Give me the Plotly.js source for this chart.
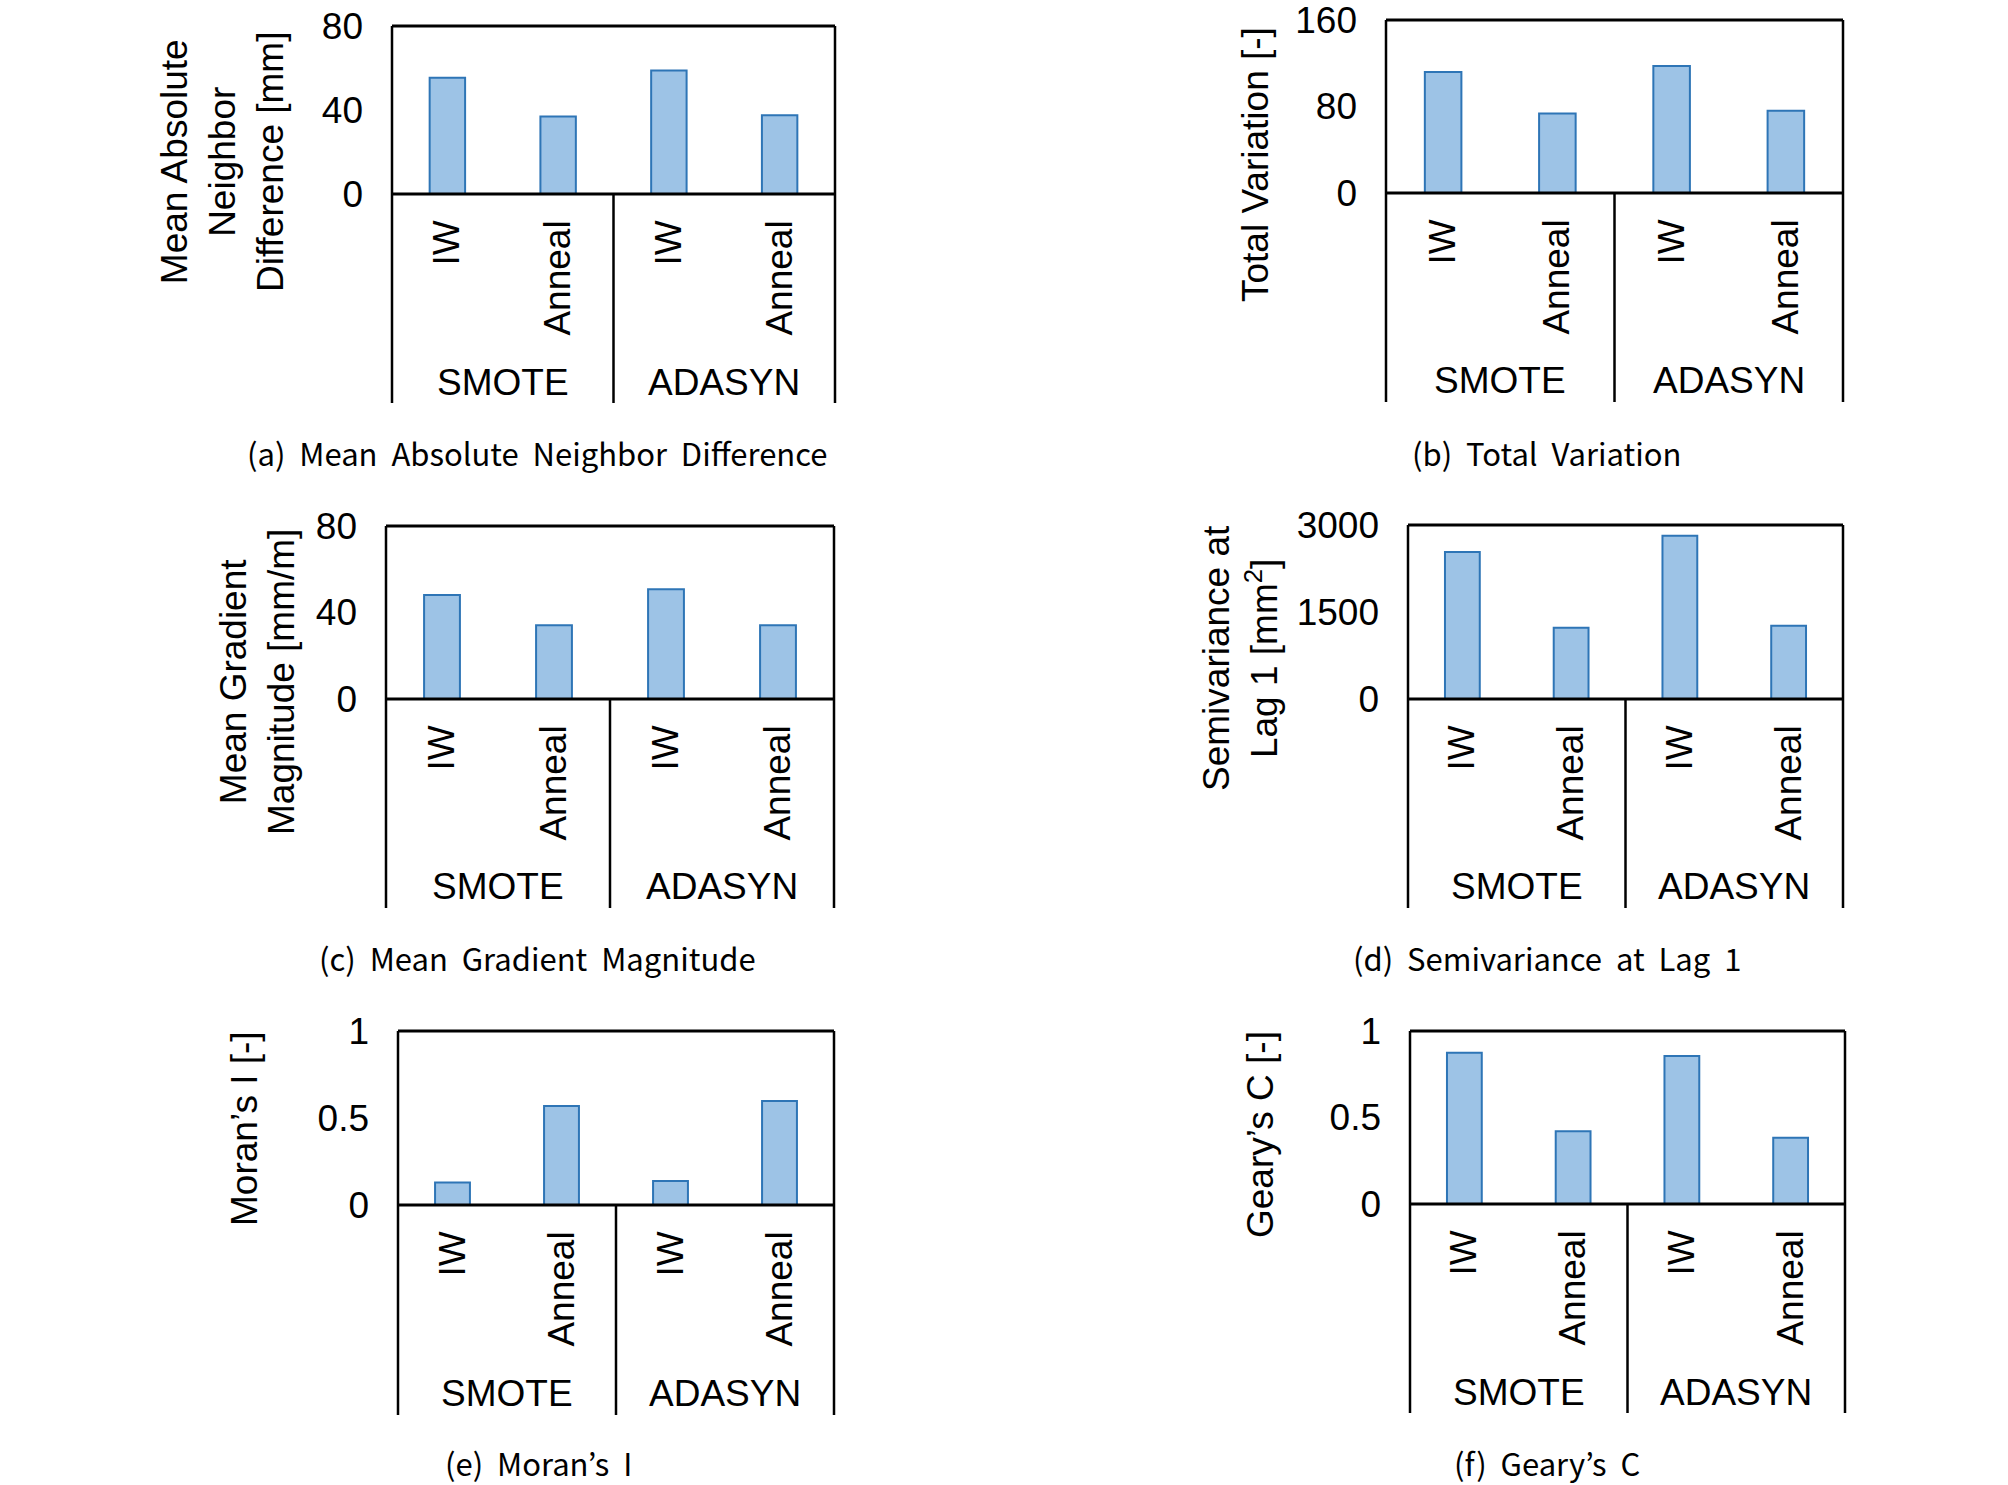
<!DOCTYPE html>
<html>
<head>
<meta charset="utf-8">
<script src="https://cdn.plot.ly/plotly-3.0.1.min.js"></script>
<style>html,body{margin:0;padding:0;background:#fff;}#chart{width:2008px;height:1485px;}</style>
</head>
<body>
<div id="chart"></div>
<script>
// ---------- data ----------
const subLabels   = ['IW', 'Anneal', 'IW', 'Anneal'];
const groupLabels = ['SMOTE', 'SMOTE', 'ADASYN', 'ADASYN'];

const meanAbsNeighborDiff = [55.3, 36.9, 58.8, 37.5];
const totalVariation      = [111.8, 73.5, 117.4, 76.0];
const meanGradientMag     = [48.1, 34.1, 50.7, 34.1];
const semivarianceLag1    = [2535, 1228, 2816, 1262];
const moransI             = [0.130, 0.569, 0.138, 0.598];
const gearysC             = [0.875, 0.421, 0.856, 0.383];

const ticksA = [0, 40, 80];
const ticksB = [0, 80, 160];
const ticksC = [0, 40, 80];
const ticksD = [0, 1500, 3000];
const ticksE = [0, 0.5, 1];
const ticksF = [0, 0.5, 1];

const yTitles = [
  'Mean Absolute<br>Neighbor<br>Difference [mm]',
  'Total Variation [-]',
  'Mean Gradient<br>Magnitude [mm/m]',
  'Semivariance at<br>Lag 1 [mm<sup>2</sup>]',
  'Moran\u2019s I [-]',
  'Geary\u2019s C [-]'
];
const captions = [
  '(a) Mean Absolute Neighbor Difference',
  '(b) Total Variation',
  '(c) Mean Gradient Magnitude',
  '(d) Semivariance at Lag 1',
  '(e) Moran\u2019s I',
  '(f) Geary\u2019s C'
];

const seriesList = [meanAbsNeighborDiff, totalVariation, meanGradientMag, semivarianceLag1, moransI, gearysC];
const tickList   = [ticksA, ticksB, ticksC, ticksD, ticksE, ticksF];

// ---------- layout geometry (pixels) ----------
const W = 2008, H = 1485;
const boxes = [
  {l: 392, r: 835, t: 26, z: 194, b: 403, tx: 222, ty: 162, cx: 537, cy: 452},
  {l: 1386, r: 1843, t: 20, z: 193, b: 402, tx: 1255, ty: 165, cx: 1547, cy: 452},
  {l: 386, r: 834, t: 526, z: 699, b: 908, tx: 257, ty: 682, cx: 537, cy: 957},
  {l: 1408, r: 1843, t: 525, z: 699, b: 908, tx: 1240, ty: 658, cx: 1547, cy: 957},
  {l: 398, r: 834, t: 1031, z: 1205, b: 1415, tx: 244, ty: 1129, cx: 538, cy: 1462},
  {l: 1410, r: 1845, t: 1031, z: 1204, b: 1413, tx: 1260, ty: 1135, cx: 1547, cy: 1462}
];

const ARIAL = 'Liberation Sans, Arial, sans-serif';
const CAPFONT = 'Noto Sans CJK KR, Noto Sans, sans-serif';
const spaced = s => s.split(' ').join('\u00A0\u00A0');

const xIdx = subLabels.map((_, i) => i);
const groupNames = [...new Set(groupLabels)];

const data = [];
const layout = {
  width: W, height: H,
  margin: {l: 0, r: 0, t: 0, b: 0},
  paper_bgcolor: '#ffffff', plot_bgcolor: '#ffffff',
  showlegend: false,
  shapes: [], annotations: []
};

boxes.forEach((bx, k) => {
  const n = k + 1;
  const xa = 'xaxis' + (n === 1 ? '' : n), ya = 'yaxis' + (n === 1 ? '' : n);
  const xr = 'x' + (n === 1 ? '' : n), yr = 'y' + (n === 1 ? '' : n);
  const ticks = tickList[k];
  data.push({
    type: 'bar', x: xIdx, y: seriesList[k], xaxis: xr, yaxis: yr,
    width: 0.32,
    marker: {color: '#9DC3E6', line: {color: '#2E75B6', width: 2}},
    hoverinfo: 'skip'
  });
  layout[xa] = {
    domain: [bx.l / W, bx.r / W], anchor: yr,
    range: [-0.5, subLabels.length - 0.5],
    tickvals: xIdx, ticktext: subLabels, tickangle: -90,
    ticks: '', showline: false, showgrid: false, zeroline: false,
    ticklabelstandoff: 18, ticklabeloverflow: 'allow',
    tickfont: {family: ARIAL, size: 37, color: '#000'},
    fixedrange: true
  };
  layout[ya] = {
    domain: [1 - bx.z / H, 1 - bx.t / H], anchor: xr,
    range: [0, ticks[ticks.length - 1]],
    tickvals: ticks, ticktext: ticks.map(String),
    ticks: '', showline: false, showgrid: false, zeroline: false,
    ticklabelstandoff: 28, ticklabeloverflow: 'allow',
    tickfont: {family: ARIAL, size: 37, color: '#000'},
    fixedrange: true
  };
  const ext = (bx.b - bx.z) / (bx.z - bx.t);
  const xd = xr + ' domain', yd = yr + ' domain';
  const lineK = {color: '#000', width: 3};
  const lineS = {color: '#000', width: 2.5};
  // top and zero lines
  layout.shapes.push({type: 'line', xref: xd, yref: yd, x0: 0, x1: 1, y0: 1, y1: 1, line: lineK});
  layout.shapes.push({type: 'line', xref: xd, yref: yd, x0: 0, x1: 1, y0: 0, y1: 0, line: lineK});
  // outer verticals
  layout.shapes.push({type: 'line', xref: xd, yref: yd, x0: 0, x1: 0, y0: 1, y1: -ext, line: lineS});
  layout.shapes.push({type: 'line', xref: xd, yref: yd, x0: 1, x1: 1, y0: 1, y1: -ext, line: lineS});
  // group dividers and group labels
  let start = 0;
  groupNames.forEach((g, gi) => {
    const cnt = groupLabels.filter(v => v === g).length;
    const end = start + cnt;
    if (gi > 0) {
      layout.shapes.push({type: 'line', xref: xd, yref: yd,
        x0: start / subLabels.length, x1: start / subLabels.length, y0: 0, y1: -ext, line: lineS});
    }
    layout.annotations.push({
      xref: xr, yref: yd, x: (start + end - 1) / 2, y: -(188) / (bx.z - bx.t),
      text: g, showarrow: false, xanchor: 'center', yanchor: 'middle',
      font: {family: ARIAL, size: 37, color: '#000'}
    });
    start = end;
  });
  // y title
  layout.annotations.push({
    xref: 'paper', yref: 'paper', x: bx.tx / W, y: 1 - bx.ty / H,
    text: yTitles[k], textangle: -90, showarrow: false,
    xanchor: 'center', yanchor: 'middle', align: 'center',
    font: {family: ARIAL, size: 37, color: '#000'}
  });
  // caption
  layout.annotations.push({
    xref: 'paper', yref: 'paper', x: bx.cx / W, y: 1 - bx.cy / H,
    text: spaced(captions[k]), showarrow: false,
    xanchor: 'center', yanchor: 'middle',
    font: {family: CAPFONT, size: 31, color: '#000'}
  });
});

Plotly.newPlot('chart', data, layout, {staticPlot: true, displayModeBar: false});
</script>
</body>
</html>
